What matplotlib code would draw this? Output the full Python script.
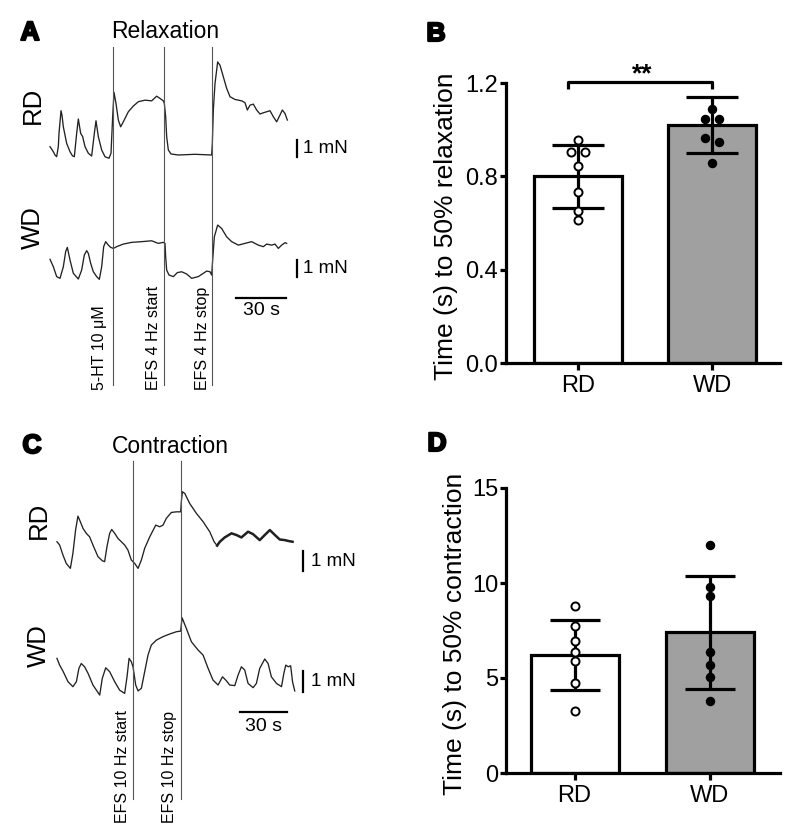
import numpy as np
import matplotlib
matplotlib.use('Agg')
import matplotlib.pyplot as plt
import matplotlib.patheffects as pe

plt.rcParams['font.family'] = ['Liberation Sans', 'DejaVu Sans']

# ---------------- data ----------------
# Panel A: relaxation traces (time in s, force in mN relative to trace baseline)
a_rd_t = [0, 2, 3, 4, 5, 5.4, 6.6, 7.2, 8, 10, 12, 13.5, 14.6, 16, 17, 18.4, 19.6, 21, 23, 25, 26.6,
          27.6, 29, 31, 33, 35.4, 36.6, 37.6, 38.4, 39.6, 41, 42.4, 44, 47, 50, 53, 57, 61, 64, 66,
          68, 68.6, 69.4, 70, 71, 72.6, 77, 87, 97, 97.4, 98, 99, 100.6, 102, 104, 106, 108, 111, 115,
          117, 118.4, 120, 122, 124, 126, 128, 130, 132, 134, 136, 138, 139.4, 141, 142.4]
a_rd_f = [0.48, 0.19, 0.0, -0.10, 0.50, 1.25, 2.56, 2.30, 1.63, 0.67, 0.19, -0.05, -0.10, 1.25, 2.08,
          1.25, 1.06, 0.48, 0.10, -0.06, 1.25, 1.98, 1.06, 0.29, -0.10, -0.19, 0.10, 2.21, 3.62, 2.98,
          2.02, 1.63, 1.92, 2.50, 2.83, 3.08, 3.17, 3.13, 3.40, 3.27, 3.13, 2.98, 2.21, 1.06, 0.29, 0.06,
          0.0, 0.04, 0.0, 0.67, 2.60, 4.13, 5.38, 5.19, 4.52, 3.85, 3.37, 3.21, 3.13, 3.02, 2.60, 2.88,
          2.94, 2.60, 2.37, 2.44, 2.50, 2.56, 2.21, 1.92, 2.31, 2.60, 2.40, 2.02]
a_wd_t = [0, 2, 4, 6, 8, 9.4, 10.4, 12, 14, 17, 19, 20.6, 22, 23, 24.4, 26, 28, 29.6, 31, 32.2, 33.4,
          35, 36.4, 38, 40, 44, 49, 55, 61, 65, 68, 69, 69.4, 70, 71.4, 74, 76.4, 79, 82, 85, 89, 92,
          94, 96, 97, 97.6, 98.6, 100.6, 103, 106, 109, 113, 117, 121, 125, 128, 130, 133, 135, 137,
          139, 141, 142]
a_wd_f = [1.10, 0.67, 0.10, 0.0, 0.67, 1.54, 1.79, 1.06, 0.29, -0.04, 0.48, 1.35, 1.60, 1.44, 0.87,
          0.38, 0.10, -0.06, 0.67, 1.83, 2.12, 1.92, 1.79, 1.73, 1.83, 1.98, 2.08, 2.12, 2.17, 2.02,
          2.08, 2.02, 1.25, 0.48, 0.19, 0.10, 0.33, 0.38, 0.25, 0.0, 0.10, 0.29, 0.42, 0.38, 0.19,
          1.06, 2.40, 3.08, 2.88, 2.40, 2.12, 1.92, 2.02, 2.12, 1.92, 1.83, 1.98, 1.92, 1.98, 1.73,
          1.92, 2.06, 2.02]
a_events_t = [38, 68.6, 97.4]
a_events = ['5-HT 10 μM', 'EFS 4 Hz start', 'EFS 4 Hz stop']

# Panel C: contraction traces
c_rd_t = [0, 1.7, 3.8, 5.9, 8.5, 10.1, 11.8, 13.3, 14.8, 16.5, 18.6, 20.7, 22.8, 26, 28.8, 30.2, 31.7,
          33.4, 34.7, 36.6, 38.7, 40.8, 42.9, 45, 47.1, 49.3, 51.4, 53.5, 55.6, 58.8, 62.6, 65.1, 67.2,
          69.3, 72.5, 75.7, 78.4, 78.9, 79.5, 81, 84.1, 88.4, 92.6, 96.8, 99.6, 101.5, 103.2, 106.3,
          110.6, 113.7, 116.9, 121.1, 124.3, 128.5, 131.7, 134.9, 138.1, 141.2, 144.4, 147.1, 149.3]
c_rd_f = [1.30, 1.14, 0.65, 0.24, 0.0, 0.73, 1.87, 2.55, 2.28, 1.95, 1.71, 1.54, 1.14, 0.57, 0.37, 0.33,
          1.06, 1.71, 1.90, 1.71, 1.46, 1.30, 1.14, 0.89, 0.41, 0.24, 0.0, 0.41, 0.98, 1.54, 2.11, 2.03,
          2.11, 2.44, 2.73, 2.76, 2.76, 3.33, 3.74, 3.66, 3.17, 2.68, 2.28, 1.79, 1.30, 1.11, 1.30, 1.51,
          1.71, 1.63, 1.51, 1.79, 1.67, 1.38, 1.63, 1.87, 1.63, 1.41, 1.38, 1.33, 1.30]
c_wd_t = [0, 1.7, 3.8, 7, 10.1, 12.3, 13.9, 15.4, 17.5, 19.7, 22.8, 27.1, 28.7, 30.9, 33.4, 36.6, 39.7,
          42.9, 44.4, 45.7, 47.1, 48.2, 49.9, 51.4, 53.5, 55.6, 57.7, 59.8, 63, 67.2, 71.5, 75.7, 78.4,
          78.9, 79.3, 82, 85.2, 89.4, 92.6, 95.8, 98.9, 102.1, 104.9, 107, 109.5, 112.7, 114.8, 116.9,
          119, 121.1, 124.3, 126.4, 128.5, 131.7, 133.8, 135.9, 139.1, 142.3, 143.8, 145, 146.6, 148.1,
          149.3, 150.7]
c_wd_f = [1.79, 1.46, 1.17, 0.65, 0.41, 0.65, 1.30, 1.54, 1.38, 1.06, 0.49, 0.0, 0.81, 1.33, 1.14, 0.65,
          0.24, 0.08, 0.89, 1.79, 1.63, 1.38, 0.49, 0.20, 0.33, 1.14, 1.95, 2.44, 2.68, 2.85, 2.98, 3.09,
          3.12, 3.50, 3.77, 3.25, 2.60, 2.20, 1.95, 1.30, 0.73, 0.49, 0.89, 0.73, 0.49, 0.46, 0.98, 1.38,
          1.22, 0.57, 0.36, 0.57, 1.30, 1.76, 1.54, 0.89, 0.57, 0.41, 1.06, 1.46, 1.38, 1.43, 0.65, 0.20]
c_events_t = [48, 78.4]
c_events = ['EFS 10 Hz start', 'EFS 10 Hz stop']

# Panel B: time to 50% relaxation (s)
groups = ['RD', 'WD']
b_mean = [0.80, 1.02]
b_sd = [0.135, 0.122]
b_rd_pts = [0.956, 0.906, 0.906, 0.844, 0.733, 0.652, 0.613]
b_wd_pts = [1.087, 1.044, 1.044, 0.964, 0.947, 0.856]
b_rd_jit = [0, -0.05, 0.05, 0, 0, 0, 0]
b_wd_jit = [0, -0.055, 0.055, -0.05, 0.055, 0]

# Panel D: time to 50% contraction (s)
d_mean = [6.2, 7.4]
d_sd = [1.83, 2.97]
d_rd_pts = [8.79, 7.74, 6.96, 6.35, 5.91, 4.72, 3.28]
d_wd_pts = [12.0, 9.77, 9.32, 6.35, 5.68, 5.04, 3.79]

# ---------------- figure ----------------
W, H = 797, 833
fig = plt.figure(figsize=(W / 100, H / 100), dpi=100)


def fx(px):
    return px / W


def fy(py):
    return 1 - py / H


TRACE = '#222222'
EVENT = '#555555'
bold_fx = [pe.withStroke(linewidth=1.6, foreground='black')]

# ---------- Panel A ----------
axA = fig.add_axes([0, fy(420), 400 / W, 420 / H])
axA.set_xlim(-30, 210)
axA.set_ylim(-15.32, 8.96)
axA.axis('off')
wd_off_a = -7.13
axA.plot(a_rd_t, a_rd_f, color=TRACE, lw=0.95, solid_joinstyle='round')
axA.plot(a_wd_t, np.array(a_wd_f) + wd_off_a, color=TRACE, lw=0.95, solid_joinstyle='round')
for t in a_events_t:
    axA.plot([t, t], [-13.3, 6.24], color=EVENT, lw=0.8)
for t, lab in zip([29.4, 61.8, 91.2], a_events):
    axA.text(t, -13.6, lab, rotation=90, ha='center', va='bottom', fontsize=11.5)
# scale bars
axA.plot([148.2, 148.2], [-0.12, 0.88], color='black', lw=1.6)
axA.plot([148.2, 148.2], [-7.07, -6.07], color='black', lw=1.6)
axA.text(151.8, 0.38, '1 mN', ha='left', va='center', fontsize=13.5)
axA.text(151.8, -6.57, '1 mN', ha='left', va='center', fontsize=13.5)
axA.plot([111.6, 141.6], [-8.27, -8.27], color='black', lw=1.6)
axA.text(126.6, -8.5, '30 s', ha='center', va='top', fontsize=14)
fig.text(fx(165), fy(32), 'Relaxation', ha='center', va='center', fontsize=16.5)
fig.text(fx(32.5), fy(105.5), 'RD', rotation=90, ha='center', va='center', fontsize=18.5)
fig.text(fx(32.5), fy(227.5), 'WD', rotation=90, ha='center', va='center', fontsize=18.5)
fig.text(fx(30), fy(33), 'A', ha='center', va='center', fontsize=19, fontweight='bold',
         path_effects=bold_fx)

# ---------- Panel C ----------
axC = fig.add_axes([0, 0, 400 / W, 413 / H])
axC.set_xlim(-36.1, 217.4)
axC.set_ylim(-12.91, 7.24)
axC.axis('off')
wd_off_c = -6.18
axC.plot(c_rd_t, c_rd_f, color=TRACE, lw=0.95, solid_joinstyle='round')
noisy = [i for i, t in enumerate(c_rd_t) if t >= 101.5]
axC.plot([c_rd_t[i] for i in noisy], [c_rd_f[i] for i in noisy], color=TRACE, lw=1.8)
axC.plot(c_wd_t, np.array(c_wd_f) + wd_off_c, color=TRACE, lw=0.95, solid_joinstyle='round')
for t in c_events_t:
    axC.plot([t, t], [-11.25, 5.25], color=EVENT, lw=0.8)
for t, lab in zip([41.6, 71.6], c_events):
    axC.text(t, -12.42, lab, rotation=90, ha='center', va='bottom', fontsize=11.5)
axC.plot([155.7, 155.7], [-0.15, 0.85], color='black', lw=1.6)
axC.plot([155.7, 155.7], [-6.02, -5.02], color='black', lw=1.6)
axC.text(160.8, 0.33, '1 mN', ha='left', va='center', fontsize=13.5)
axC.text(160.8, -5.52, '1 mN', ha='left', va='center', fontsize=13.5)
axC.plot([116, 146], [-7.02, -7.02], color='black', lw=1.6)
axC.text(131, -7.3, '30 s', ha='center', va='top', fontsize=14)
fig.text(fx(170.7), fy(446.7), 'Contraction', ha='center', va='center', fontsize=16.5)
fig.text(fx(39), fy(520), 'RD', rotation=90, ha='center', va='center', fontsize=18.5)
fig.text(fx(39), fy(646), 'WD', rotation=90, ha='center', va='center', fontsize=18.5)
fig.text(fx(32), fy(446), 'C', ha='center', va='center', fontsize=19, fontweight='bold',
         path_effects=bold_fx)


# ---------- bar panels ----------
def style_bar_axes(ax):
    for s in ['top', 'right']:
        ax.spines[s].set_visible(False)
    for s in ['left', 'bottom']:
        ax.spines[s].set_linewidth(2.3)
    ax.tick_params(axis='both', width=2.3, length=4, labelsize=17, pad=1.5, direction='out')
    ax.tick_params(axis='x', length=5, pad=4)


def draw_bars(ax, means, sds, rd_pts, wd_pts, rd_jit, wd_jit, capsize):
    x = np.arange(len(groups))
    ax.bar(x, means, width=0.65, color=['white', '#a0a0a0'], edgecolor='black',
           linewidth=2.3, zorder=2)
    ax.errorbar(x, means, yerr=sds, fmt='none', ecolor='black', elinewidth=2.3,
                capsize=capsize, capthick=2.3, zorder=3)
    ax.plot(np.array(rd_jit) + x[0], rd_pts, 'o', ms=5.8, mfc='white', mec='black', mew=1.4,
            zorder=4, clip_on=False)
    ax.plot(np.array(wd_jit) + x[1], wd_pts, 'o', ms=5.8, mfc='black', mec='black', mew=1.0,
            zorder=4, clip_on=False)
    ax.set_xticks(x)
    ax.set_xticklabels(groups)


# Panel B
axB = fig.add_axes([fx(506), fy(363), 274 / W, 280 / H])
draw_bars(axB, b_mean, b_sd, b_rd_pts, b_wd_pts, b_rd_jit, b_wd_jit, capsize=19)
axB.set_xlim(-0.537, 1.507)
axB.set_ylim(0, 1.2)
axB.set_yticks([0, 0.4, 0.8, 1.2])
axB.set_yticklabels(['0.0', '0.4', '0.8', '1.2'])
style_bar_axes(axB)
axB.set_ylabel('Time (s) to 50% relaxation', fontsize=19)
axB.yaxis.set_label_coords(-0.175, 0.489)
axB.plot([-0.075, -0.075, 1.0, 1.0], [1.174, 1.206, 1.206, 1.174], color='black', lw=2.3,
         clip_on=False, solid_capstyle='butt')
axB.text(0.48, 1.207, '**', ha='center', va='baseline', fontsize=19, fontweight='bold')
fig.text(fx(436), fy(34), 'B', ha='center', va='center', fontsize=19, fontweight='bold',
         path_effects=bold_fx)

# Panel D
axD = fig.add_axes([fx(506), fy(773), 274 / W, 285 / H])
draw_bars(axD, d_mean, d_sd, d_rd_pts, d_wd_pts, [0] * 7, [0] * 7, capsize=18)
axD.set_xlim(-0.506, 1.517)
axD.set_ylim(0, 15)
axD.set_yticks([0, 5, 10, 15])
style_bar_axes(axD)
axD.set_ylabel('Time (s) to 50% contraction', fontsize=19)
axD.yaxis.set_label_coords(-0.143, 0.489)
fig.text(fx(437), fy(444), 'D', ha='center', va='center', fontsize=19, fontweight='bold',
         path_effects=bold_fx)

fig.savefig('out.png', dpi=100)
